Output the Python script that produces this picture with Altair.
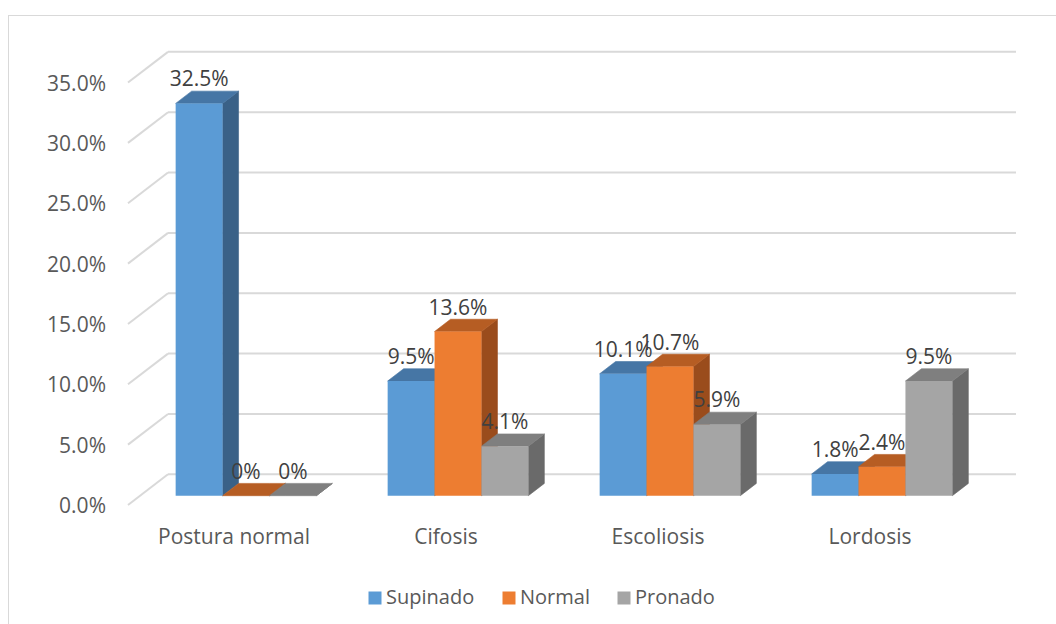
import altair as alt
import pandas as pd

# ---------------- data ----------------
categories = ["Postura normal", "Cifosis", "Escoliosis", "Lordosis"]
series = ["Supinado", "Normal", "Pronado"]
supinado = [32.5, 9.5, 10.1, 1.8]
normal = [0.0, 13.6, 10.7, 2.4]
pronado = [0.0, 4.1, 5.9, 9.5]
y_ticks = [0, 5, 10, 15, 20, 25, 30, 35]
y_tick_labels = ["0.0%", "5.0%", "10.0%", "15.0%", "20.0%", "25.0%", "30.0%", "35.0%"]

front_colors = ["#5B9BD5", "#ED7D31", "#A5A5A5"]
top_colors = ["#4676A5", "#B65D23", "#7F7F7F"]
side_colors = ["#3A6187", "#9A4C1C", "#6A6A6A"]

# ---------------- layout (pixels) ----------------
W, H = 1056, 624
SLOT = 212.0          # px per category slot
PX = 12.07            # px per percentage point
FRONT_X0 = 128.0      # px of the front floor edge
BASE_Y = 495.7        # px of 0 % on the bars' front plane
BAR_W = 46.9 / SLOT
BAR_DX, BAR_DY = 16 / SLOT, 12.3 / PX
PLANE_DX, PLANE_DY = 12 / SLOT, 9.3 / PX     # front floor edge -> bar front plane
WALL_DX, WALL_DY = 40 / SLOT, 30.7 / PX      # front floor edge -> back wall

xmin, xmax = -FRONT_X0 / SLOT, (W - FRONT_X0) / SLOT
ymin, ymax = (BASE_Y - H) / PX, BASE_Y / PX

values = [supinado, normal, pronado]

front_rows, poly_rows, label_rows = [], [], []
for i, cat in enumerate(categories):
    center = i + 0.5 + PLANE_DX
    for j, s in enumerate(series):
        v = values[j][i]
        x0 = center + (j - 1.5) * BAR_W
        x1 = x0 + BAR_W
        front_rows.append({"x": x0, "x2": x1, "y": 0.0, "y2": v, "serie": s})
        pid = f"{i}-{j}"
        # top face
        for (px_, lo, hi) in [(x0, v, v), (x0 + BAR_DX, v, v + BAR_DY),
                              (x1, v, v + BAR_DY), (x1 + BAR_DX, v + BAR_DY, v + BAR_DY)]:
            poly_rows.append({"x": px_, "y": lo, "y2": hi, "pid": "t" + pid,
                              "kind": "top", "c": top_colors[j]})
        # side face
        for (px_, lo, hi) in [(x1, 0.0, v), (x1 + BAR_DX, BAR_DY, v + BAR_DY)]:
            poly_rows.append({"x": px_, "y": lo, "y2": hi, "pid": "s" + pid,
                              "kind": "side", "c": side_colors[j]})
        txt = f"{v:.1f}%" if v else "0%"
        label_rows.append({"x": (x0 + x1) / 2, "y": v, "t": txt})

front_df = pd.DataFrame(front_rows)
poly_df = pd.DataFrame(poly_rows)
label_df = pd.DataFrame(label_rows)

grid_df = pd.DataFrame({
    "x": [WALL_DX] * len(y_ticks),
    "x2": [4 + WALL_DX] * len(y_ticks),
    "y": [t - PLANE_DY + WALL_DY for t in y_ticks],
})
diag_df = pd.DataFrame({
    "x": [0.0] * len(y_ticks),
    "x2": [WALL_DX] * len(y_ticks),
    "y": [t - PLANE_DY for t in y_ticks],
    "y2": [t - PLANE_DY + WALL_DY for t in y_ticks],
})
ytick_df = pd.DataFrame({"x": [0.0] * len(y_ticks),
                         "y": [t - PLANE_DY for t in y_ticks],
                         "t": y_tick_labels})
cat_df = pd.DataFrame({"x": [i + 0.5 for i in range(len(categories))],
                       "y": [-PLANE_DY] * len(categories),
                       "t": categories})

xs = alt.Scale(domain=[xmin, xmax], nice=False, zero=False)
ys = alt.Scale(domain=[ymin, ymax], nice=False, zero=False)
X = alt.X("x:Q", scale=xs, axis=None)
Y = alt.Y("y:Q", scale=ys, axis=None)

FONT = "Open Sans"
GRID = "#D9D9D9"

grid = alt.Chart(grid_df).mark_rule(color=GRID, strokeWidth=2).encode(
    x=X, x2="x2:Q", y=Y)
diag = alt.Chart(diag_df).mark_rule(color=GRID, strokeWidth=2).encode(
    x=X, x2="x2:Q", y=Y, y2="y2:Q")

sides = alt.Chart(poly_df).transform_filter(alt.datum.kind == "side").mark_area(
    orient="vertical", strokeWidth=0.6).encode(
    x=X, y=Y, y2="y2:Q", detail="pid:N",
    fill=alt.Fill("c:N", scale=None), stroke=alt.Stroke("c:N", scale=None))
tops = alt.Chart(poly_df).transform_filter(alt.datum.kind == "top").mark_area(
    orient="vertical", strokeWidth=0.6).encode(
    x=X, y=Y, y2="y2:Q", detail="pid:N",
    fill=alt.Fill("c:N", scale=None), stroke=alt.Stroke("c:N", scale=None))

fronts = alt.Chart(front_df).mark_rect().encode(
    x=X, x2="x2:Q", y=Y, y2="y2:Q",
    color=alt.Color("serie:N", scale=alt.Scale(domain=series, range=front_colors),
                    legend=alt.Legend(orient="none", legendX=365, legendY=588,
                                      direction="horizontal", title=None,
                                      symbolType="square", symbolSize=169,
                                      symbolStrokeWidth=0, labelFont=FONT,
                                      labelFontSize=20, labelColor="#595959",
                                      columnPadding=24, labelOffset=1, padding=0)))

data_labels = alt.Chart(label_df).mark_text(
    font=FONT, fontSize=21, color="#404040", baseline="alphabetic", dy=-17).encode(
    x=X, y=Y, text="t:N")
ytick_text = alt.Chart(ytick_df).mark_text(
    font=FONT, fontSize=21, color="#595959", align="right",
    baseline="alphabetic", dx=-22, dy=8).encode(x=X, y=Y, text="t:N")
cat_text = alt.Chart(cat_df).mark_text(
    font=FONT, fontSize=21, color="#595959", align="center",
    baseline="alphabetic", dy=39).encode(x=X, y=Y, text="t:N")

border_top = alt.Chart(pd.DataFrame({"a": [0]})).mark_rule(color=GRID, strokeWidth=1).encode(
    x=alt.value(8), x2=alt.value(W), y=alt.value(15.5))
border_left = alt.Chart(pd.DataFrame({"a": [0]})).mark_rule(color=GRID, strokeWidth=1).encode(
    x=alt.value(8.5), y=alt.value(15), y2=alt.value(H))

chart = alt.layer(
    border_top, border_left, grid, diag, sides, tops, fronts,
    data_labels, ytick_text, cat_text
).properties(
    width=W, height=H, padding=0,
    autosize=alt.AutoSizeParams(type="none"),
    background="white",
).configure_view(strokeWidth=0)

chart.save("out.html", embed_options={"renderer": "svg", "actions": False})
